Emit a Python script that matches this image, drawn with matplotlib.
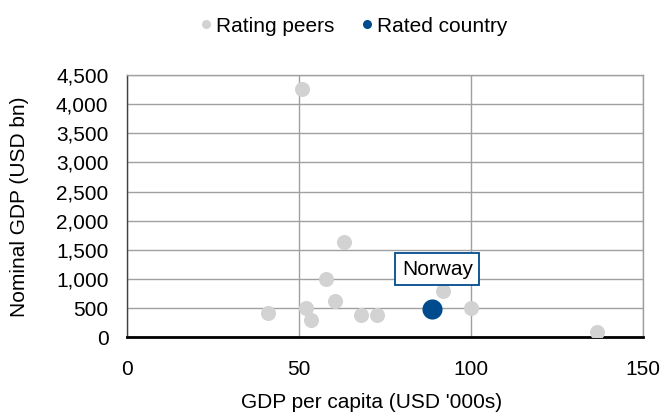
import matplotlib
matplotlib.use("Agg")
import matplotlib.pyplot as plt
from matplotlib.lines import Line2D
from matplotlib.ticker import FuncFormatter

plt.rcParams['font.family'] = ['Liberation Sans', 'DejaVu Sans']

# peers: GDP per capita (USD '000s), nominal GDP (USD bn)
peer_gdp_pc = [51.0, 41.0, 52.2, 53.7, 58.0, 60.7, 63.3, 68.2, 72.7, 92.1, 100.1, 136.6]
peer_gdp = [4260, 414, 500, 298, 1005, 631, 1638, 390, 385, 798, 500, 90]

country_name = "Norway"
country_gdp_pc = [88.9]
country_gdp = [485]

x_ticks = [0, 50, 100, 150]
y_ticks = [0, 500, 1000, 1500, 2000, 2500, 3000, 3500, 4000, 4500]

grey = "#d2d2d2"
navy = "#004b8d"
grid_col = "#a0a0a0"
fs = 15

fig = plt.figure(figsize=(6.63, 4.2), dpi=100)
ax = fig.add_axes([0.1908, 0.1969, 0.7786, 0.6245])

ax.scatter(peer_gdp_pc, peer_gdp, s=117, color=grey, linewidths=0, zorder=3)
ax.scatter(country_gdp_pc, country_gdp, s=210, color=navy, linewidths=0, zorder=4)

ax.text(90.3, 1169, country_name, fontsize=fs, ha="center", va="center", zorder=5,
        bbox=dict(boxstyle="square,pad=0.32", fc="white", ec=navy, lw=1.3))

ax.set_xlim(0, 150)
ax.set_ylim(0, 4500)
ax.set_xticks(x_ticks)
ax.set_yticks(y_ticks)
ax.yaxis.set_major_formatter(FuncFormatter(lambda v, p: f"{int(v):,}"))
ax.tick_params(length=0, labelsize=fs)
ax.tick_params(axis="x", pad=16)
ax.tick_params(axis="y", pad=13)
ax.grid(True, color=grid_col, lw=1.0, zorder=0)
ax.set_axisbelow(True)

for s in ["top", "right"]:
    ax.spines[s].set_color(grid_col)
    ax.spines[s].set_linewidth(1.0)
ax.spines["left"].set_color("#404040")
ax.spines["left"].set_linewidth(1.0)
ax.spines["bottom"].set_color("black")
ax.spines["bottom"].set_linewidth(2.0)

fig.text(372 / 663, 1 - 403 / 420, "GDP per capita (USD '000s)", fontsize=fs,
         ha="center", va="center")
fig.text(20 / 663, 1 - 207 / 420, "Nominal GDP (USD bn)", fontsize=fs,
         ha="center", va="center", rotation=90)

handles = [
    Line2D([], [], ls="none", marker="o", ms=6.5, color=grey, mew=0, label="Rating peers"),
    Line2D([], [], ls="none", marker="o", ms=6.5, color=navy, mew=0, label="Rated country"),
]
fig.legend(handles=handles, loc="center", bbox_to_anchor=(354 / 663, 1 - 26 / 420),
           ncol=2, frameon=False, fontsize=fs, handlelength=0.5, handletextpad=0.25,
           columnspacing=1.3, borderaxespad=0)

fig.savefig("out.png", dpi=100)
